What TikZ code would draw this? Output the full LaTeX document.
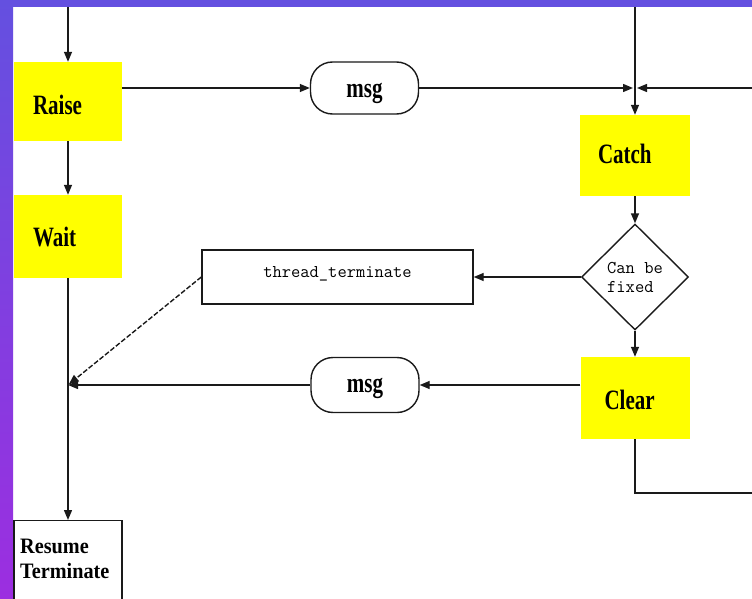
\documentclass[tikz,border=0pt]{standalone}
\usepackage{fontspec}
\setmainfont{Liberation Serif}
\usetikzlibrary{arrows.meta,shapes.geometric}
\definecolor{bandtop}{HTML}{6450E0}
\definecolor{bandbot}{HTML}{9C2EE0}
\definecolor{ink}{HTML}{1A1A1A}
\definecolor{stepyellow}{HTML}{FFFF00}
\newcommand\stepfont{\fontsize{28}{30}\selectfont\bfseries}
\newcommand\steptext[1]{\scalebox{0.75}[1]{\stepfont #1}}
\newcommand\codefont{\fontsize{18}{19}\selectfont\ttfamily}

\begin{document}
\begin{tikzpicture}[x=1pt,y=-1pt,
  stepbox/.style={fill=stepyellow, inner ysep=0pt, align=left,
    text depth=0pt},
  msgbox/.style={draw=ink, line width=1.4pt, rounded corners=22pt,
    minimum width=108pt, inner sep=0pt, text depth=0pt},
  plainbox/.style={draw=ink, line width=1.4pt, inner sep=0pt},
  decision/.style={diamond, draw=ink, line width=1.4pt, aspect=1,
    minimum width=107pt, minimum height=106pt, inner sep=0pt,
    font=\codefont, align=left},
  link/.style={draw=ink, line width=1.4pt},
  flow/.style={link, -{Triangle[length=10pt,width=8pt]}}]

\useasboundingbox (0,0) rectangle (752,599);

% frame: white sheet with a coloured band on the top and left edges
\fill[white] (0,0) rectangle (752,599);
\shade[top color=bandtop, bottom color=bandbot] (0,0) rectangle (13,599);
\fill[bandtop] (0,0) rectangle (752,7);

% left column
\node[stepbox, inner xsep=19pt, text width=70pt, minimum height=79pt,
  text height=27pt] (raise) at (68,101.5) {\steptext{Raise}};
\node[stepbox, inner xsep=19pt, text width=70pt, minimum height=83pt,
  text height=19pt] (wait) at (68,236.5) {\steptext{Wait}};
\node[plainbox, minimum width=108pt, minimum height=110pt, anchor=north]
  (resume) at (68,520) {};
\node[inner sep=0pt, anchor=north west, align=left,
  font=\fontsize{22}{25}\selectfont\bfseries] (resumetext) at (20,538.6)
  {\scalebox{0.92}[1]{Resume}\\\scalebox{0.92}[1]{Terminate}};

% right column
\node[stepbox, inner xsep=18pt, text width=74pt, minimum height=81pt,
  text height=15pt] (catch) at (635,155.5) {\steptext{Catch}};
\node[decision] (fix) at (635,277) {Can be\\fixed};
\node[stepbox, inner xsep=24pt, text width=61pt, minimum height=82pt,
  text height=22pt] (clear) at (635,398) {\steptext{Clear}};

% middle
\node[msgbox, minimum height=52pt, text height=19pt] (msgA) at (364.5,88)
  {\steptext{msg}};
\node[msgbox, minimum height=55pt, text height=15pt] (msgB) at (365,385)
  {\steptext{msg}};
\node[plainbox, minimum width=271pt, minimum height=54pt, font=\codefont,
  text height=5pt, text depth=5pt] (term) at (337.5,277)
  {thread\_terminate};

% loose ends and junctions
\coordinate (inL) at (68,7);
\coordinate (inR) at (635,7);
\coordinate (sideR) at (752,88);
\coordinate (joinR) at (635,88);
\coordinate (joinL) at (68,385);
\coordinate (outR) at (752,493);

% connectors
\draw[flow] (inL) -- (raise.north);
\draw[flow] (raise.south) -- (wait.north);
\draw[flow] (wait.south) -- (resume.north);
\draw[flow] (raise.east |- msgA.west) -- (msgA.west);
\draw[flow, shorten >=2pt] (msgA.east) -- (joinR);
\draw[flow, shorten >=2pt] (sideR) -- (joinR);
\draw[flow] (inR) -- (catch.north);
\draw[flow] (catch.south) -- (fix.north);
\draw[flow] (fix.south) -- (clear.north);
\draw[flow] (fix.west) -- (term.east);
\draw[flow, dash pattern=on 5pt off 2pt, shorten >=1pt] (term.west) -- (joinL);
\draw[flow] (clear.west |- msgB.east) -- (msgB.east);
\draw[flow] (msgB.west) -- (joinL);
\draw[link] (clear.south) |- (outR);

\end{tikzpicture}
\end{document}
